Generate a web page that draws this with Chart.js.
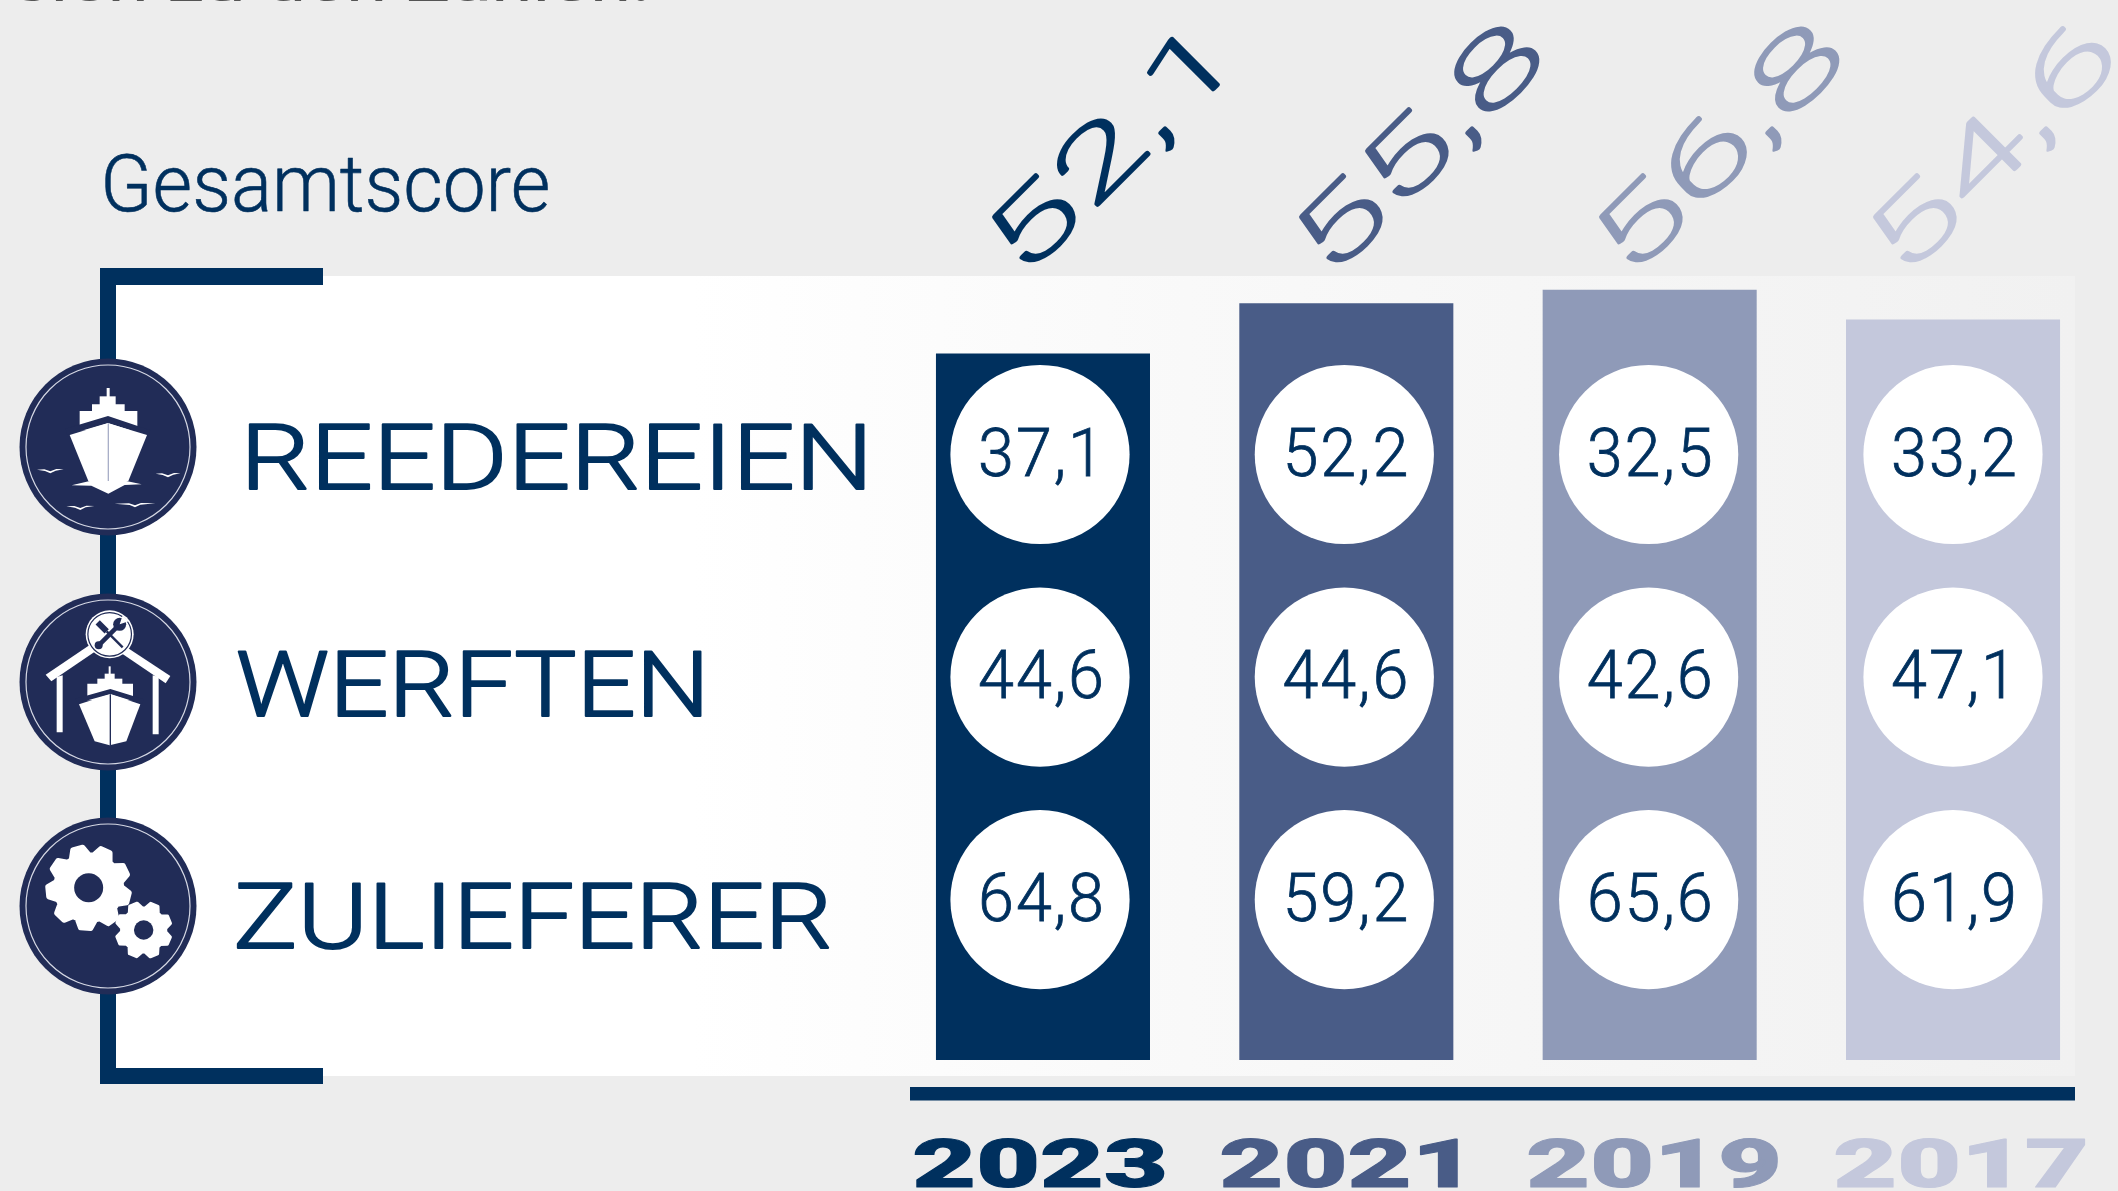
<!DOCTYPE html>
<html>
<head>
<meta charset="utf-8">
<title>Gesamtscore</title>
<script src="https://cdn.jsdelivr.net/npm/chart.js@4"></script>
<style>
    html, body { margin: 0; padding: 0; background: #ededed; }
    canvas { display: block; }
</style>
</head>
<body>
<canvas id="scoreChart" width="2118" height="1191"></canvas>
<script>
const years = ['2023', '2021', '2019', '2017'];
const gesamtscore = [52.1, 55.8, 56.8, 54.6];
const rowNames = ['REEDEREIEN', 'WERFTEN', 'ZULIEFERER'];
const reedereien = [37.1, 52.2, 32.5, 33.2];
const werften = [44.6, 44.6, 42.6, 47.1];
const zulieferer = [64.8, 59.2, 65.6, 61.9];
const yearColors = ['#00305e', '#495c87', '#8f9ab8', '#c4c8dc'];

const NAVY = '#00305e';
const ICON_NAVY = '#212c57';
const SANS = 'Roboto, "Liberation Sans", sans-serif';

const comma = v => v.toFixed(1).replace('.', ',');

// draws text squeezed or stretched so the ink runs from left to right
function fitText(ctx, text, left, right, baseline, font, color, outline) {
    ctx.save();
    ctx.font = font;
    ctx.textAlign = 'left';
    ctx.textBaseline = 'alphabetic';
    const m = ctx.measureText(text);
    const ink = m.actualBoundingBoxRight + m.actualBoundingBoxLeft;
    const k = (right - left) / ink;
    ctx.translate(left + m.actualBoundingBoxLeft * k, baseline);
    ctx.scale(k, 1);
    ctx.fillStyle = color;
    ctx.fillText(text, 0, 0);
    if (outline) {
        ctx.strokeStyle = color;
        ctx.lineWidth = outline;
        ctx.lineJoin = 'round';
        ctx.strokeText(text, 0, 0);
    }
    ctx.restore();
}

function poly(ctx, cx, cy, pts, color) {
    ctx.beginPath();
    pts.forEach((p, i) => {
        const x = cx + (p[0] - 295) / 3;
        const y = cy + (p[1] - 290) / 3;
        if (i === 0) ctx.moveTo(x, y); else ctx.lineTo(x, y);
    });
    ctx.closePath();
    ctx.fillStyle = color;
    ctx.fill();
}

function bird(ctx, cx, cy, x0, x1, y) {
    const mid = (x0 + x1) / 2;
    poly(ctx, cx, cy, [[x0, y - 2], [mid - 18, y - 3], [mid, y + 3], [mid + 18, y - 4], [x1, y - 3], [mid + 16, y + 1], [mid, y + 9], [mid - 16, y + 2]], '#ffffff');
}

function iconBase(ctx, cx, cy) {
    ctx.beginPath();
    ctx.arc(cx, cy, 88.5, 0, Math.PI * 2);
    ctx.fillStyle = ICON_NAVY;
    ctx.fill();
    ctx.beginPath();
    ctx.arc(cx, cy, 82, 0, Math.PI * 2);
    ctx.strokeStyle = '#d5d8e4';
    ctx.lineWidth = 1.2;
    ctx.stroke();
}

function drawShipIcon(ctx, cx, cy) {
    iconBase(ctx, cx, cy);
    const W = '#ffffff';
    poly(ctx, cx, cy, [[291, 113], [300, 113], [300, 140], [291, 140]], W);
    poly(ctx, cx, cy, [[270, 138], [318, 138], [318, 164], [270, 164]], W);
    poly(ctx, cx, cy, [[247, 162], [345, 162], [345, 184], [247, 184]], W);
    poly(ctx, cx, cy, [[210, 182], [383, 182], [383, 240], [210, 240]], W);
    poly(ctx, cx, cy, [[168, 235], [295, 197], [422, 240], [418, 258], [295, 218], [172, 254]], ICON_NAVY);
    poly(ctx, cx, cy, [[180, 254], [295, 219], [412, 254], [356, 392], [236, 392]], W);
    poly(ctx, cx, cy, [[294, 219], [298, 219], [298, 410], [294, 410]], '#a9afc8');
    poly(ctx, cx, cy, [[186, 405], [240, 392], [350, 392], [396, 402], [345, 404], [296, 430], [245, 406]], W);
    bird(ctx, cx, cy, 82, 162, 360);
    bird(ctx, cx, cy, 438, 512, 372);
    bird(ctx, cx, cy, 170, 254, 470);
    bird(ctx, cx, cy, 315, 437, 462);
}

function drawYardIcon(ctx, cx, cy) {
    iconBase(ctx, cx, cy);
    const W = '#ffffff';
    poly(ctx, cx, cy, [[108, 268], [250, 172], [262, 195], [125, 288]], W);
    poly(ctx, cx, cy, [[482, 272], [342, 180], [330, 200], [468, 294]], W);
    poly(ctx, cx, cy, [[141, 275], [159, 270], [159, 441], [141, 441]], W);
    poly(ctx, cx, cy, [[429, 270], [447, 275], [447, 447], [429, 447]], W);
    // ship
    poly(ctx, cx, cy, [[297, 243], [303, 243], [303, 266], [297, 266]], W);
    poly(ctx, cx, cy, [[285, 265], [315, 265], [315, 281], [285, 281]], W);
    poly(ctx, cx, cy, [[263, 280], [338, 280], [338, 296], [263, 296]], W);
    poly(ctx, cx, cy, [[233, 295], [370, 295], [370, 345], [233, 345]], W);
    poly(ctx, cx, cy, [[198, 340], [302, 311], [402, 342], [398, 356], [302, 326], [202, 354]], ICON_NAVY);
    poly(ctx, cx, cy, [[208, 357], [302, 327], [392, 357], [350, 468], [300, 480], [255, 468]], W);
    poly(ctx, cx, cy, [[300, 327], [304, 327], [304, 480], [300, 480]], ICON_NAVY);
    // badge with crossed tools
    const bx = cx + (300 - 295) / 3;
    const by = cy + (147 - 290) / 3;
    ctx.beginPath();
    ctx.arc(bx, by, 24, 0, Math.PI * 2);
    ctx.fillStyle = W;
    ctx.fill();
    ctx.beginPath();
    ctx.arc(bx, by, 21.8, 0, Math.PI * 2);
    ctx.strokeStyle = ICON_NAVY;
    ctx.lineWidth = 1.2;
    ctx.stroke();
    ctx.save();
    ctx.translate(bx, by);
    ctx.strokeStyle = ICON_NAVY;
    ctx.lineCap = 'butt';
    // screwdriver
    ctx.lineWidth = 2.4;
    ctx.beginPath();
    ctx.moveTo(-3, -3);
    ctx.lineTo(13, 13);
    ctx.stroke();
    ctx.lineWidth = 6;
    ctx.beginPath();
    ctx.moveTo(-12, -12);
    ctx.lineTo(-3, -3);
    ctx.stroke();
    // wrench with open jaw at the top right
    ctx.lineWidth = 4.5;
    ctx.beginPath();
    ctx.moveTo(-10, 10);
    ctx.lineTo(8, -8);
    ctx.stroke();
    ctx.fillStyle = ICON_NAVY;
    ctx.beginPath();
    ctx.arc(-11, 11, 4, 0, Math.PI * 2);
    ctx.fill();
    ctx.beginPath();
    ctx.arc(10, -10, 6.5, 0, Math.PI * 2);
    ctx.fill();
    ctx.fillStyle = W;
    ctx.beginPath();
    ctx.moveTo(10, -10);
    ctx.lineTo(19, -13);
    ctx.lineTo(13, -19);
    ctx.closePath();
    ctx.fill();
    ctx.restore();
}

function gear(ctx, x, y, outer, inner, hole, teeth, turn) {
    ctx.beginPath();
    const step = Math.PI * 2 / teeth;
    for (let i = 0; i < teeth; i++) {
        const a = turn + i * step;
        const w = step * 0.24;
        const ptsA = [[inner, a - step / 2 + w * 0.4], [outer, a - w * 0.75], [outer, a + w * 0.75], [inner, a + step / 2 - w * 0.4]];
        ptsA.forEach((p, j) => {
            const px = x + Math.cos(p[1]) * p[0];
            const py = y + Math.sin(p[1]) * p[0];
            if (i === 0 && j === 0) ctx.moveTo(px, py); else ctx.lineTo(px, py);
        });
    }
    ctx.closePath();
    ctx.fillStyle = '#ffffff';
    ctx.strokeStyle = '#ffffff';
    ctx.lineWidth = outer * 0.12;
    ctx.lineJoin = 'round';
    ctx.stroke();
    ctx.fill();
    ctx.beginPath();
    ctx.arc(x, y, hole, 0, Math.PI * 2);
    ctx.fillStyle = ICON_NAVY;
    ctx.fill();
}

function drawGearIcon(ctx, cx, cy) {
    iconBase(ctx, cx, cy);
    gear(ctx, cx + (237 - 295) / 3, cy + (235 - 290) / 3, 41, 33, 14.5, 9, 0.25);
    gear(ctx, cx + (402 - 295) / 3, cy + (362 - 290) / 3, 27.5, 22, 9.7, 8, 0.4);
}

// panel, brackets, headline and row names sit behind the bars
const backdrop = {
    id: 'backdrop',
    beforeDatasetsDraw(chart) {
        const ctx = chart.ctx;
        ctx.save();
        ctx.fillStyle = '#ededed';
        ctx.fillRect(0, 0, chart.width, chart.height);

        fitText(ctx, 'sich zu den Zahlen.', 15, 646, 1, '400 46px ' + SANS, '#555555');
        fitText(ctx, 'Gesamtscore', 105, 548, 211, '300 80px ' + SANS, NAVY, 0.6);

        const grad = ctx.createLinearGradient(100, 0, 2075, 0);
        grad.addColorStop(0, '#ffffff');
        grad.addColorStop(0.3, '#ffffff');
        grad.addColorStop(0.55, '#f9f9f9');
        grad.addColorStop(1, '#f1f1f1');
        ctx.fillStyle = grad;
        ctx.fillRect(100, 276, 1975, 800);

        ctx.fillStyle = NAVY;
        ctx.fillRect(100, 268, 16, 816);
        ctx.fillRect(100, 268, 223, 17);
        ctx.fillRect(100, 1068, 223, 16);
        ctx.fillRect(910, 1087, 1165, 13.5);

        fitText(ctx, rowNames[0], 250, 864, 489, '300 91px ' + SANS, NAVY, 2);
        fitText(ctx, rowNames[1], 238, 701, 716, '300 91px ' + SANS, NAVY, 2);
        fitText(ctx, rowNames[2], 238, 828, 948, '300 91px ' + SANS, NAVY, 2);

        drawShipIcon(ctx, 108, 447);
        drawYardIcon(ctx, 108, 682);
        drawGearIcon(ctx, 108, 906);
        ctx.restore();
    }
};

// totals on the slant, year names under the rule, scores in the circles
const labels = {
    id: 'labels',
    afterDatasetsDraw(chart) {
        const ctx = chart.ctx;
        const totalX = [1024, 1331, 1631, 1905];
        const yearLeft = [914, 1221, 1528, 1835];
        const yearWidth = [250, 236, 250, 250];

        gesamtscore.forEach((v, i) => {
            ctx.save();
            ctx.translate(totalX[i], 279);
            ctx.rotate(-Math.PI / 4);
            ctx.scale(1.78, 1);
            ctx.font = '100 92px ' + SANS;
            ctx.letterSpacing = '2px';
            ctx.fillStyle = yearColors[i];
            ctx.strokeStyle = yearColors[i];
            ctx.lineWidth = 3.6;
            ctx.lineJoin = 'round';
            ctx.textBaseline = 'alphabetic';
            ctx.fillText(comma(v), 0, 0);
            ctx.strokeText(comma(v), 0, 0);
            ctx.restore();

            fitText(ctx, years[i], yearLeft[i], yearLeft[i] + yearWidth[i], 1187, '900 66px ' + SANS, yearColors[i], 1);
        });

        rowNames.forEach((name, r) => {
            const ds = chart.data.datasets[r + 1];
            chart.getDatasetMeta(r + 1).data.forEach((pt, i) => {
                ctx.save();
                ctx.translate(pt.x + 2, pt.y + 21);
                ctx.scale(0.98, 1);
                ctx.font = '300 66px ' + SANS;
                ctx.letterSpacing = '2px';
                ctx.fillStyle = NAVY;
                ctx.strokeStyle = NAVY;
                ctx.lineWidth = 0.8;
                ctx.textAlign = 'center';
                ctx.textBaseline = 'alphabetic';
                ctx.fillText(comma(ds.data[i].score), 0, 0);
                ctx.strokeText(comma(ds.data[i].score), 0, 0);
                ctx.restore();
            });
        });
    }
};

const rowDataset = (label, values, row) => ({
    type: 'line',
    label: label,
    xAxisID: 'xRow',
    yAxisID: 'yRow',
    order: 1,
    showLine: false,
    clip: false,
    pointRadius: 89.6,
    pointBorderWidth: 0,
    pointBackgroundColor: '#ffffff',
    data: values.map((v, i) => ({ x: i, y: row, score: v }))
});

new Chart(document.getElementById('scoreChart').getContext('2d'), {
    type: 'bar',
    data: {
        labels: years,
        datasets: [
            {
                label: 'Gesamtscore',
                order: 2,
                xAxisID: 'x',
                yAxisID: 'y',
                data: gesamtscore,
                backgroundColor: yearColors,
                borderWidth: 0,
                grouped: false,
                categoryPercentage: 1,
                barPercentage: 0.7056
            },
            rowDataset(rowNames[0], reedereien, 0),
            rowDataset(rowNames[1], werften, 1),
            rowDataset(rowNames[2], zulieferer, 2)
        ]
    },
    options: {
        responsive: false,
        devicePixelRatio: 1,
        animation: false,
        events: [],
        layout: { autoPadding: false, padding: { left: 891.3, right: 13.3, top: 43, bottom: 131 } },
        plugins: { legend: { display: false }, tooltip: { enabled: false } },
        scales: {
            x: { type: 'category', display: false, offset: true },
            y: { type: 'linear', display: false, min: 0, max: 75 },
            xRow: { type: 'linear', display: false, offset: false, min: -0.4886, max: 3.4985 },
            yRow: { type: 'linear', display: false, reverse: true, min: -1.8486, max: 2.7201 }
        }
    },
    plugins: [backdrop, labels]
});
</script>
</body>
</html>
